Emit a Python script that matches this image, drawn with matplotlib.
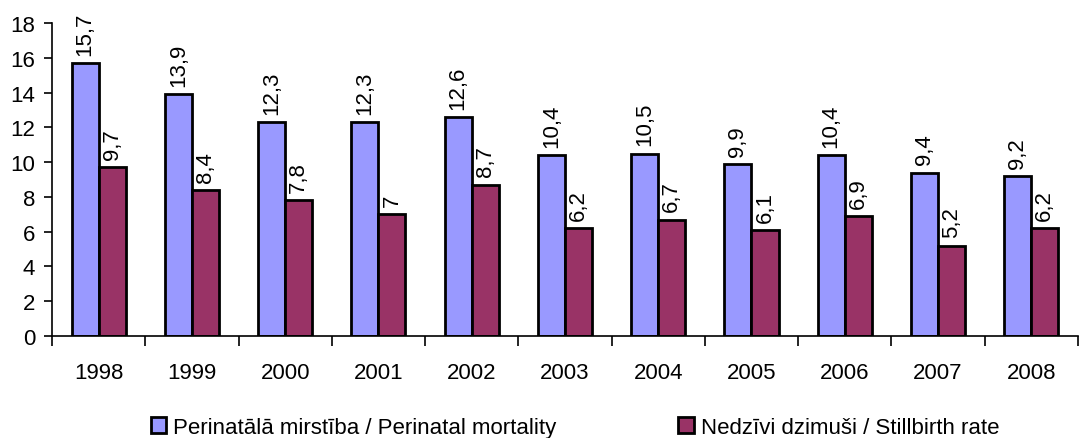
import numpy as np
import matplotlib.pyplot as plt
from matplotlib import font_manager

# Données
annees = ['1998', '1999', '2000', '2001', '2002', '2003', '2004', '2005', '2006', '2007', '2008']
perinatala = [15.7, 13.9, 12.3, 12.3, 12.6, 10.4, 10.5, 9.9, 10.4, 9.4, 9.2]
nedzivi = [9.7, 8.4, 7.8, 7, 8.7, 6.2, 6.7, 6.1, 6.9, 5.2, 6.2]

noms = {f.name for f in font_manager.fontManager.ttflist}
police = 'Liberation Sans Narrow' if 'Liberation Sans Narrow' in noms else 'Liberation Sans'
plt.rcParams['font.family'] = [police, 'DejaVu Sans']

fig = plt.figure(figsize=(10.91, 4.39), dpi=100)
ax = fig.add_axes([0.0477, 0.2323, 0.9403, 0.7127])

x = np.arange(len(annees))
w = 0.29
b1 = ax.bar(x - w / 2, perinatala, w, color='#9999ff', edgecolor='black', linewidth=2,
            label='Perinatālā mirstība / Perinatal mortality')
b2 = ax.bar(x + w / 2, nedzivi, w, color='#993366', edgecolor='black', linewidth=2,
            label='Nedzīvi dzimuši / Stillbirth rate')

def fmt(v):
    s = ('%g' % v).replace('.', ',')
    return s

for barres, vals in [(b1, perinatala), (b2, nedzivi)]:
    for r, v in zip(barres, vals):
        ax.annotate(fmt(v), (r.get_x() + r.get_width() / 2, v), xytext=(0, 6),
                    textcoords='offset points', rotation=90, ha='center', va='bottom', fontsize=16)

ax.set_xlim(-0.5, len(annees) - 0.5)
ax.set_ylim(0, 18)
ax.set_yticks(range(0, 19, 2))
ax.set_xticks(np.arange(-0.5, len(annees), 1.0))
ax.set_xticklabels([])
ax.set_xticks(x, minor=True)
ax.set_xticklabels(annees, minor=True)
ax.tick_params(axis='x', which='minor', length=0, pad=19, labelsize=16)
ax.tick_params(axis='x', which='major', length=7, width=1.2, direction='out')
ax.tick_params(axis='y', length=6, width=1.2, direction='out', labelsize=16, pad=6)
for s in ['top', 'right']:
    ax.spines[s].set_visible(False)
ax.spines['left'].set_linewidth(1.2)
ax.spines['bottom'].set_linewidth(1.2)

leg = fig.legend(loc='lower center', bbox_to_anchor=(0.527, -0.045), ncol=2, frameon=False,
                 fontsize=16, handlelength=0.7, handleheight=0.7, handletextpad=0.3,
                 columnspacing=5.5)

plt.savefig('out.png', dpi=100)
